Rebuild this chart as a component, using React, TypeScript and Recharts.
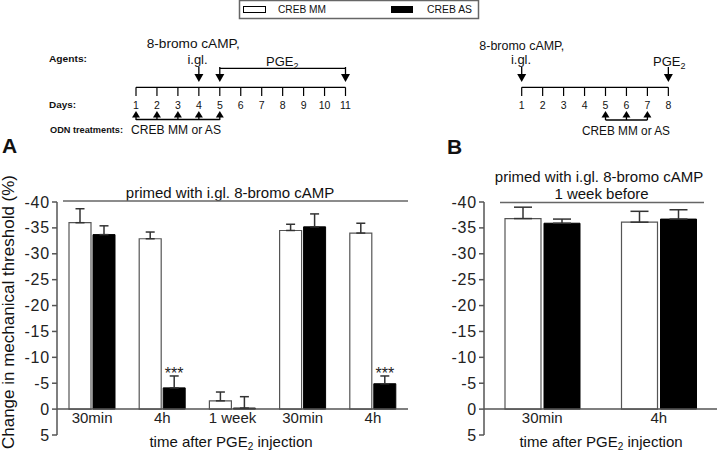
import React from "react";
import { Bar, BarChart, ErrorBar, LabelList, ReferenceLine, XAxis, YAxis } from "recharts";

const groupsA = ["30min", "4h", "1 week", "30min", "4h"];
const mmA = [-36.0, -32.9, -1.6, -34.5, -34.0];
const mmErrA = [2.7, 1.3, 1.7, 1.2, 1.9];
const asA = [-33.7, -4.1, -0.2, -35.2, -4.9];
const asErrA = [1.7, 2.3, 2.2, 2.5, 1.5];
const sigA = ["", "***", "", "", "***"];

const groupsB = ["30min", "4h"];
const mmB = [-36.8, -36.1];
const mmErrB = [2.2, 2.1];
const asB = [-35.9, -36.7];
const asErrB = [0.8, 1.8];

const yTicks = [-40, -35, -30, -25, -20, -15, -10, -5, 0, 5];

const daysA = [1, 2, 3, 4, 5, 6, 7, 8, 9, 10, 11];
const odnDaysA = [1, 2, 3, 4, 5];
const daysB = [1, 2, 3, 4, 5, 6, 7, 8];
const odnDaysB = [5, 6, 7];

const FONT = "Arial, 'Liberation Sans', Helvetica, sans-serif";
const AXIS = "#555";

const dataA = groupsA.map((g, i) => ({
  slot: i,
  mm: mmA[i],
  mmErr: [mmErrA[i], 0],
  as: asA[i],
  asErr: [asErrA[i], 0],
  sig: sigA[i],
}));

const dataB = groupsB.map((g, i) => ({
  slot: i,
  mm: mmB[i],
  mmErr: [mmErrB[i], 0],
  as: asB[i],
  asErr: [asErrB[i], 0],
}));

function catTick(labels: string[]) {
  return (props: any) => {
    const { x, y, payload } = props;
    return (
      <text x={x} y={y - 12} textAnchor="middle" fontSize={15} fill="#222" fontFamily={FONT}>
        {labels[payload.value]}
      </text>
    );
  };
}

function valTick(props: any) {
  const { x, y, payload } = props;
  return (
    <text x={x} y={y + 5.5} textAnchor="end" fontSize={16} fill="#222" fontFamily={FONT} letterSpacing={0.8}>
      {payload.value}
    </text>
  );
}

function sigLabel(props: any) {
  const { x, y, width, height, index } = props;
  const txt = sigA[index];
  if (!txt) return null;
  const top = Math.min(y, y + height);
  const pxPerUnit = Math.abs(height) / Math.abs(asA[index]);
  const errTop = top - asErrA[index] * pxPerUnit;
  return (
    <text x={x + width / 2} y={errTop + 3} textAnchor="middle" fontSize={16} fill="#222" fontFamily={FONT}>
      {txt}
    </text>
  );
}

function Panel({
  data,
  labels,
  width,
  yWidth,
  right,
  barSize,
  barGap,
  capWidth,
  withSig,
}: {
  data: any[];
  labels: string[];
  width: number;
  yWidth: number;
  right: number;
  barSize: number;
  barGap: number;
  capWidth: number;
  withSig?: boolean;
}) {
  return (
    <BarChart
      width={width}
      height={285}
      data={data}
      margin={{ top: 32, right, bottom: 0, left: 0 }}
      barSize={barSize}
      barGap={barGap}
    >
      <XAxis
        dataKey="slot"
        type="category"
        height={20}
        axisLine={false}
        tickLine={false}
        tickSize={0}
        tickMargin={0}
        tick={catTick(labels)}
        interval={0}
      />
      <YAxis
        width={yWidth}
        type="number"
        domain={[-40, 5]}
        reversed
        ticks={yTicks}
        interval={0}
        tickSize={5}
        tickMargin={2}
        axisLine={{ stroke: AXIS, strokeWidth: 1.5 }}
        tickLine={{ stroke: AXIS, strokeWidth: 1.5 }}
        tick={valTick}
      />
      <ReferenceLine y={0} stroke={AXIS} strokeWidth={1.5} />
      <Bar dataKey="mm" fill="#fff" stroke={AXIS} strokeWidth={1.2} isAnimationActive={false}>
        <ErrorBar dataKey="mmErr" width={capWidth} stroke="#333" strokeWidth={1.5} direction="y" />
      </Bar>
      <Bar dataKey="as" fill="#000" stroke="#000" strokeWidth={1} isAnimationActive={false}>
        <ErrorBar dataKey="asErr" width={capWidth} stroke="#333" strokeWidth={1.5} direction="y" />
        {withSig ? <LabelList dataKey="sig" content={sigLabel} /> : null}
      </Bar>
    </BarChart>
  );
}

function DownArrow({ x }: { x: number }) {
  return (
    <g>
      <line x1={x} y1={67} x2={x} y2={75} stroke="#000" strokeWidth={1.3} />
      <polygon points={`${x - 4.5},74 ${x + 4.5},74 ${x},82`} fill="#000" />
    </g>
  );
}

function UpArrow({ x }: { x: number }) {
  return (
    <g>
      <line x1={x} y1={116} x2={x} y2={120} stroke="#000" strokeWidth={1.3} />
      <polygon points={`${x - 4},117.5 ${x + 4},117.5 ${x},111`} fill="#000" />
    </g>
  );
}

function Diagram() {
  const step = 20.95;
  const ax = (d: number) => 136 + (d - 1) * step;
  const bx = (d: number) => 521.7 + (d - 1) * step;
  const lastA = ax(daysA[daysA.length - 1]);
  const lastB = bx(daysB[daysB.length - 1]);
  const t = { fontFamily: FONT, fill: "#111" };
  return (
    <svg width={720} height={455} style={{ position: "absolute", left: 0, top: 0, pointerEvents: "none" }}>
      {/* legend */}
      <rect x={239.5} y={0.5} width={239} height={18} fill="#fff" stroke="#666" strokeWidth={1.5} />
      <rect x={243.5} y={6.5} width={22} height={6} fill="#fff" stroke="#000" strokeWidth={1} />
      <text x={278} y={13} fontSize={10} textLength={48} lengthAdjust="spacingAndGlyphs" {...t}>CREB MM</text>
      <rect x={391} y={6} width={22} height={7} fill="#000" />
      <text x={427} y={13} fontSize={10} textLength={45} lengthAdjust="spacingAndGlyphs" {...t}>CREB AS</text>

      {/* timeline A */}
      <text x={49} y={62} fontSize={9.5} fontWeight="bold" textLength={38} lengthAdjust="spacingAndGlyphs" {...t}>Agents:</text>
      <text x={49} y={107.5} fontSize={9.5} fontWeight="bold" textLength={27} lengthAdjust="spacingAndGlyphs" {...t}>Days:</text>
      <text x={50} y={133} fontSize={9.5} fontWeight="bold" textLength={73} lengthAdjust="spacingAndGlyphs" {...t}>ODN treatments:</text>
      <text x={146.7} y={48} fontSize={12.5} textLength={93} lengthAdjust="spacingAndGlyphs" {...t}>8-bromo cAMP,</text>
      <text x={197.5} y={64} fontSize={13} textAnchor="middle" {...t}>i.gl.</text>
      <text x={266} y={66} fontSize={13} {...t}>
        PGE<tspan fontSize={9} dy={3}>2</tspan>
      </text>
      <DownArrow x={ax(4)} />
      <line x1={ax(5)} y1={68.3} x2={lastA} y2={68.3} stroke="#000" strokeWidth={1.3} />
      <DownArrow x={ax(5)} />
      <DownArrow x={lastA} />
      <line x1={ax(1)} y1={87.3} x2={lastA} y2={87.3} stroke="#000" strokeWidth={1.3} />
      {daysA.map((d) => (
        <g key={`a${d}`}>
          <line x1={ax(d)} y1={87.3} x2={ax(d)} y2={96} stroke="#000" strokeWidth={1.2} />
          <text x={ax(d)} y={108.5} fontSize={10.5} textAnchor="middle" {...t}>{d}</text>
        </g>
      ))}
      <line x1={ax(odnDaysA[0])} y1={119.5} x2={ax(odnDaysA[odnDaysA.length - 1])} y2={119.5} stroke="#000" strokeWidth={1.3} />
      {odnDaysA.map((d) => (
        <UpArrow key={`ua${d}`} x={ax(d)} />
      ))}
      <text x={131} y={133.5} fontSize={12} textLength={90} lengthAdjust="spacingAndGlyphs" {...t}>CREB MM or AS</text>

      {/* timeline B */}
      <text x={479.3} y={49.5} fontSize={12.5} textLength={85} lengthAdjust="spacingAndGlyphs" {...t}>8-bromo cAMP,</text>
      <text x={521} y={64} fontSize={13} textAnchor="middle" {...t}>i.gl.</text>
      <text x={653} y={66} fontSize={13} {...t}>
        PGE<tspan fontSize={9} dy={3}>2</tspan>
      </text>
      <DownArrow x={bx(1)} />
      <DownArrow x={lastB} />
      <line x1={bx(1)} y1={87.3} x2={lastB} y2={87.3} stroke="#000" strokeWidth={1.3} />
      {daysB.map((d) => (
        <g key={`b${d}`}>
          <line x1={bx(d)} y1={87.3} x2={bx(d)} y2={96} stroke="#000" strokeWidth={1.2} />
          <text x={bx(d)} y={109} fontSize={10.5} textAnchor="middle" {...t}>{d}</text>
        </g>
      ))}
      <line x1={bx(odnDaysB[0])} y1={120} x2={bx(odnDaysB[odnDaysB.length - 1])} y2={120} stroke="#000" strokeWidth={1.3} />
      {odnDaysB.map((d) => (
        <UpArrow key={`ub${d}`} x={bx(d)} />
      ))}
      <text x={626} y={135} fontSize={12} textAnchor="middle" textLength={88} lengthAdjust="spacingAndGlyphs" {...t}>CREB MM or AS</text>

      {/* panel letters */}
      <text x={2} y={153} fontSize={21} fontWeight="bold" {...t}>A</text>
      <text x={447} y={154} fontSize={21} fontWeight="bold" {...t}>B</text>

      {/* panel titles */}
      <text x={230} y={198} fontSize={15} textAnchor="middle" {...t}>primed with i.gl. 8-bromo cAMP</text>
      <line x1={63} y1={201} x2={408} y2={201} stroke="#666" strokeWidth={1.6} />
      <text x={599} y={182} fontSize={15} textAnchor="middle" {...t}>primed with i.gl. 8-bromo cAMP</text>
      <text x={601.5} y={199} fontSize={15} textAnchor="middle" {...t}>1 week before</text>
      <line x1={500} y1={202.5} x2={704} y2={202.5} stroke="#666" strokeWidth={1.6} />

      {/* axis titles */}
      <text transform="translate(14,312) rotate(-90)" fontSize={17} textAnchor="middle" {...t}>
        Change in mechanical threshold (%)
      </text>
      <text x={231} y={447} fontSize={15} textAnchor="middle" {...t}>
        time after PGE<tspan fontSize={10} dy={3}>2</tspan>
        <tspan dy={-3}> injection</tspan>
      </text>
      <text x={601} y={447} fontSize={15} textAnchor="middle" {...t}>
        time after PGE<tspan fontSize={10} dy={3}>2</tspan>
        <tspan dy={-3}> injection</tspan>
      </text>
    </svg>
  );
}

export default function App() {
  return (
    <div style={{ position: "absolute", left: 0, top: 0, width: 720, height: 455, background: "#fff", overflow: "hidden" }}>
      <div style={{ position: "absolute", left: 0, top: 170 }}>
        <Panel data={dataA} labels={groupsA} width={420} yWidth={57} right={12} barSize={22} barGap={2} capWidth={4.5} withSig />
      </div>
      <div style={{ position: "absolute", left: 420, top: 170 }}>
        <Panel data={dataB} labels={groupsB} width={300} yWidth={64} right={3} barSize={36} barGap={3} capWidth={9} />
      </div>
      <Diagram />
    </div>
  );
}
